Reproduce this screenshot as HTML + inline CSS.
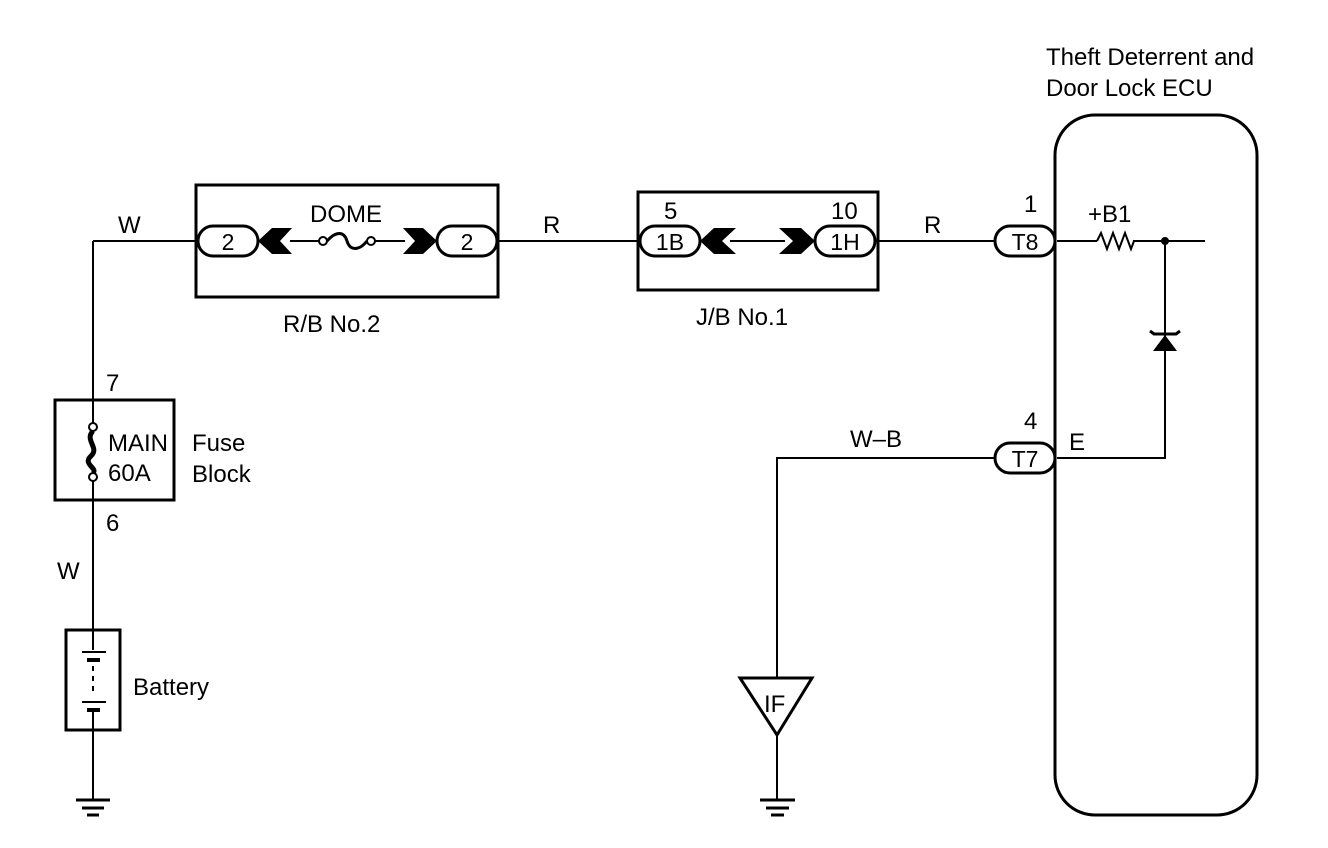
<!DOCTYPE html>
<html><head><meta charset="utf-8"><style>
body{margin:0;background:#fff}
svg{display:block}
text{font-family:"Liberation Sans",Arial,sans-serif;font-size:24px;fill:#000}
.c{text-anchor:middle;font-size:23px}
</style></head><body>
<svg width="1328" height="848" viewBox="0 0 1328 848" xmlns="http://www.w3.org/2000/svg">
<g fill="none" stroke="#000" stroke-width="2">
<path d="M93 241H198M93 241V423M93 481V630M93 730V800"/>
<rect x="55" y="400" width="119" height="100" stroke-width="3"/>
<circle cx="93" cy="427" r="4" fill="#fff"/>
<circle cx="93" cy="477" r="4" fill="#fff"/>
<path d="M93 431C84 440 100 448 91 456S98 468 93 473" stroke-width="5"/>
<rect x="66" y="630" width="54" height="100" stroke-width="3"/>
<path d="M93 630V650M93 710V730"/>
<path d="M82 652H106M82 702H106"/>
<path d="M87 660H100M87 710H100" stroke-width="4"/>
<path d="M93 666V695" stroke-dasharray="5 5"/>
<path d="M76 800H110M82 808H104M87 815H99" stroke-width="3"/>
<path d="M760 800H795M766 808H789M771 815H784" stroke-width="3"/>
<rect x="196" y="185" width="302" height="112" stroke-width="3"/>
<rect x="198" y="226" width="60" height="30" rx="15" stroke-width="3"/>
<rect x="437" y="226" width="60" height="30" rx="15" stroke-width="3"/>
<path d="M290 241H319M375 241H405"/>
<circle cx="323" cy="241" r="4"/><circle cx="371" cy="241" r="4"/>
<path d="M327 241C336 231 344 231 347 241S359 251 367 241" stroke-width="3"/>
<path d="M498 241H640M878 241H995M1057 241H1097M1133 241H1205M1165 241V458H1057M995 458H777V678M777 735V800"/>
<rect x="638" y="192" width="240" height="98" stroke-width="3"/>
<rect x="640" y="226" width="60" height="30" rx="15" stroke-width="3"/>
<rect x="815" y="226" width="60" height="30" rx="15" stroke-width="3"/>
<path d="M730 241H785"/>
<rect x="995" y="226" width="60" height="30" rx="15" stroke-width="3"/>
<rect x="995" y="443" width="60" height="30" rx="15" stroke-width="3"/>
<rect x="1055" y="115" width="202" height="700" rx="40" stroke-width="3"/>
<path d="M1097 241L1101 233L1107 249L1113 233L1119 249L1125 233L1131 249L1134 241" stroke-width="2"/>
<path d="M1150 331L1154 334H1176L1180 331" stroke-width="3"/>
<path d="M740 678H812L777 735Z" stroke-width="3"/>
</g>
<g fill="#000">
<circle cx="1165" cy="241" r="4"/>
<path d="M1165 335L1177 351H1153Z"/>
<path d="M258 241L272 228H292L280 241L292 254H272Z"/>
<path d="M437 241L423 228H403L415 241L403 254H423Z"/>
<path d="M700 241L714 228H736L722 241L736 254H714Z"/>
<path d="M815 241L801 228H779L793 241L779 254H801Z"/>
</g>
<text x="118" y="233">W</text>
<text x="310" y="222">DOME</text>
<text class="c" x="228" y="250">2</text>
<text class="c" x="467" y="250">2</text>
<text x="283" y="332">R/B No.2</text>
<text x="543" y="233">R</text>
<text x="664" y="219">5</text>
<text x="831" y="219">10</text>
<text class="c" x="670" y="250">1B</text>
<text class="c" x="845" y="250">1H</text>
<text x="696" y="325">J/B No.1</text>
<text x="924" y="233">R</text>
<text x="1024" y="212">1</text>
<text class="c" x="1025" y="250">T8</text>
<text x="1088" y="222">+B1</text>
<text x="1024" y="429">4</text>
<text class="c" x="1025" y="467">T7</text>
<text x="1069" y="450">E</text>
<text x="850" y="447">W–B</text>
<text x="764" y="712">IF</text>
<text x="1046" y="65">Theft Deterrent and</text>
<text x="1046" y="96">Door Lock ECU</text>
<text x="106" y="391">7</text>
<text x="108" y="451">MAIN</text>
<text x="108" y="481">60A</text>
<text x="192" y="451">Fuse</text>
<text x="192" y="482">Block</text>
<text x="106" y="531">6</text>
<text x="57" y="579">W</text>
<text x="133" y="695">Battery</text>
</svg>
</body></html>
